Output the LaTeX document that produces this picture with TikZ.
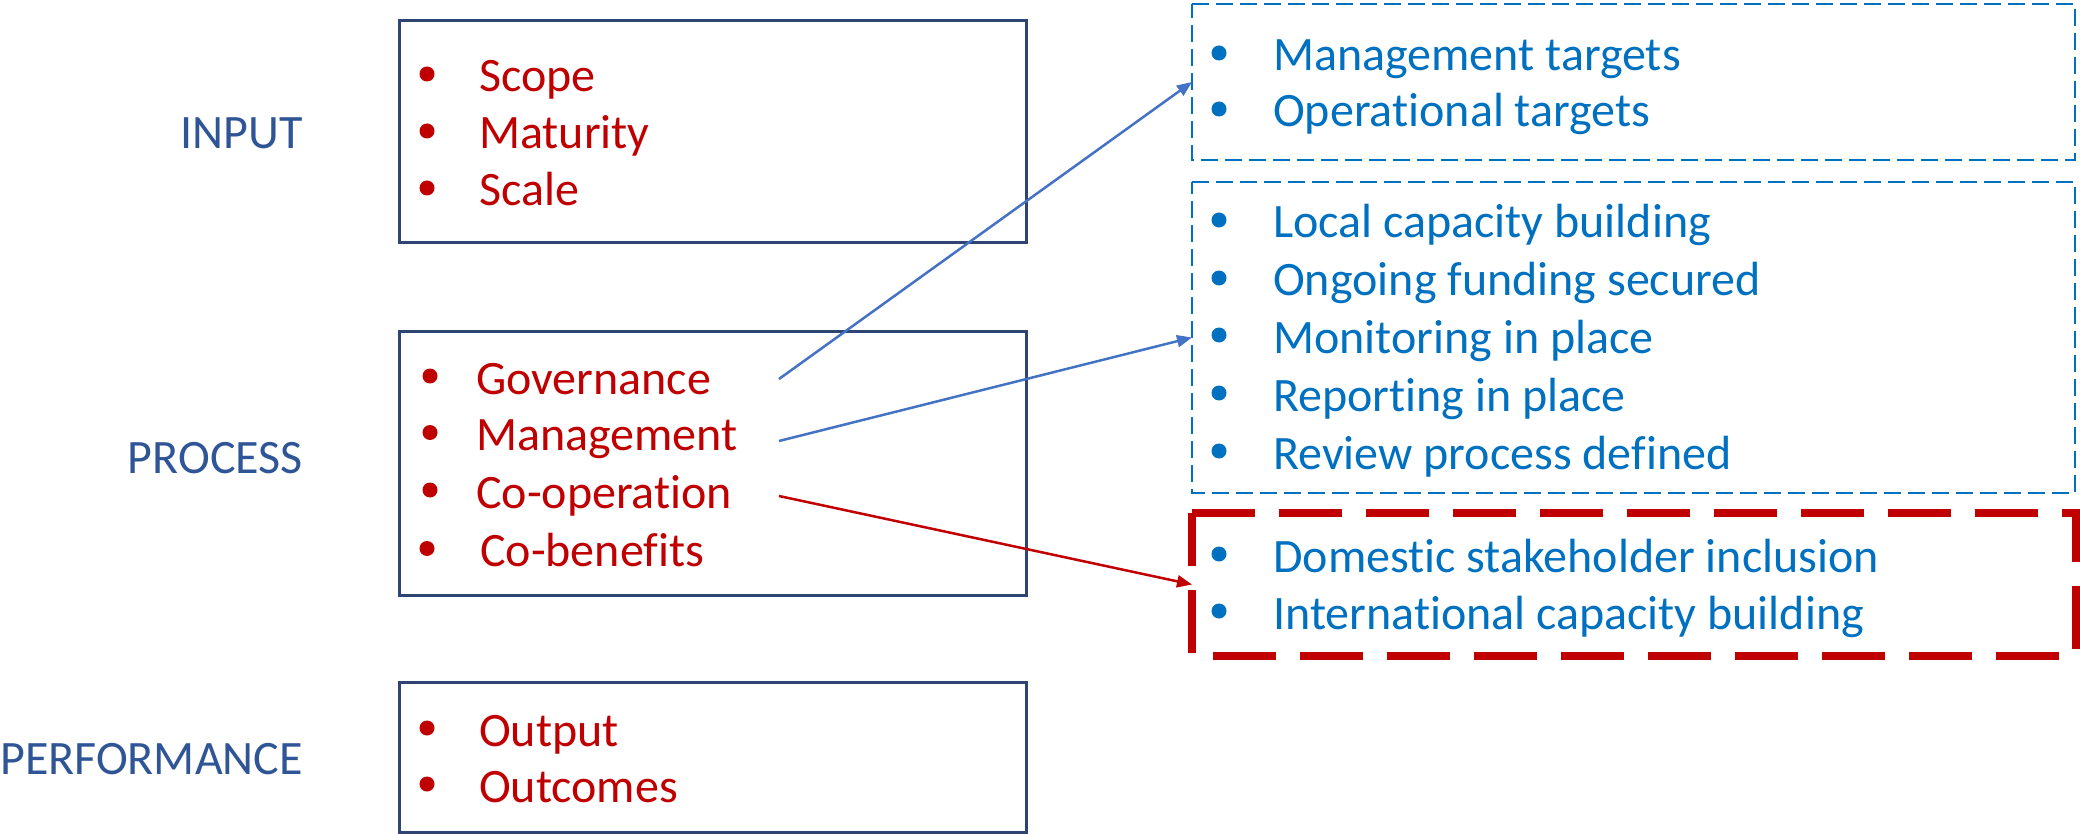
\documentclass[tikz,border=0pt]{standalone}
\usepackage{fontspec}
\setmainfont{Carlito}[Ligatures={NoCommon,NoRare,NoContextual}]
\usetikzlibrary{arrows.meta}
\definecolor{navy}{HTML}{2E4573}
\definecolor{lblblue}{HTML}{2F5597}
\definecolor{dred}{HTML}{C00000}
\definecolor{tblue}{HTML}{0070C0}
\definecolor{ablue}{HTML}{4472C4}
\tikzset{
  box/.style={draw=navy, line width=3pt, inner sep=0pt, outer sep=0pt, minimum width=627pt},
  frame/.style={inner sep=0pt, outer sep=0pt, minimum width=883pt},
  bluedash/.style={draw=tblue, line width=2.2pt, dash pattern=on 17pt off 7pt},
  reddash/.style={draw=dred, line width=7.5pt, dash pattern=on 63pt off 24pt},
  lbl/.style={anchor=base east, text=lblblue, font=\fontsize{48}{58}\selectfont, inner sep=0pt},
  ritem/.style={anchor=base west, text=dred, font=\fontsize{48}{58}\selectfont, inner sep=0pt},
  bitem/.style={anchor=base west, text=tblue, font=\fontsize{48}{58}\selectfont, inner sep=0pt},
  conn/.style={line width=2.5pt, -{Triangle[length=15pt,width=12pt]}},
}
\begin{document}
\begin{tikzpicture}[x=1pt,y=-1pt]
\useasboundingbox (0,0) rectangle (2080,834);

% left boxes
\node[box, minimum height=222pt] (inbox) at (712.5,132) {};
\node[box, minimum height=264pt] (procbox) at (712.5,463) {};
\node[box, minimum height=150pt] (perfbox) at (712.5,757) {};

% labels
\node[lbl] (input) at (303,149) {INPUT};
\node[lbl] (process) at (303,473) {PROCESS};
\node[lbl] (performance) at (303,774) {PERFORMANCE};

% input items
\foreach \t/\y [count=\i] in {Scope/92, Maturity/149, Scale/206} {
  \fill[dred] (427,\y-18) circle (7.5pt);
  \node[ritem] (in\i) at (479,\y) {\t};
}
% process items
\foreach \t/\y/\bx/\tx [count=\i] in {Governance/394/430/476, Management/450.5/430/476, Co-operation/508/430/476, Co-benefits/566.5/427/480} {
  \fill[dred] (\bx,\y-18) circle (7.5pt);
  \node[ritem] (pr\i) at (\tx,\y) {\t};
}
% performance items
\foreach \t/\y [count=\i] in {Output/746, Outcomes/802} {
  \fill[dred] (427,\y-18) circle (7.5pt);
  \node[ritem] (pf\i) at (479,\y) {\t};
}

% right boxes
\node[frame, minimum height=156pt] (tgt) at (1633.5,82) {};
\node[frame, minimum height=311pt] (cap) at (1633.5,337.5) {};
\node[frame, minimum height=143pt, minimum width=884pt] (coop) at (1634,584.5) {};
\draw[bluedash] (tgt.north west) -- (tgt.north east) -- (tgt.south east) -- (tgt.south west) -- cycle;
\draw[bluedash] (cap.north west) -- (cap.north east) -- (cap.south east) -- (cap.south west) -- cycle;
\draw[reddash] (coop.north west) -- (coop.north east) -- (coop.south east) -- (coop.south west) -- cycle;

% right items
\foreach \t/\y [count=\i] in {Management targets/71, Operational targets/127,
  Local capacity building/238, Ongoing funding secured/296, Monitoring in place/353,
  Reporting in place/411, Review process defined/469,
  Domestic stakeholder inclusion/572, International capacity building/629} {
  \fill[tblue] (1219,\y-18) circle (7.5pt);
  \node[bitem] (r\i) at (1273,\y) {\t};
}

% connectors
\coordinate (govout) at (779,379);
\coordinate (mgmtout) at (779,441);
\coordinate (coopout) at (779,496);
\draw[conn, draw=ablue, fill=ablue] (govout) -- (tgt.west);
\draw[conn, draw=ablue, fill=ablue] (mgmtout) -- (cap.west);
\draw[conn, draw=dred, fill=dred] (coopout) -- (coop.west);
\end{tikzpicture}
\end{document}
